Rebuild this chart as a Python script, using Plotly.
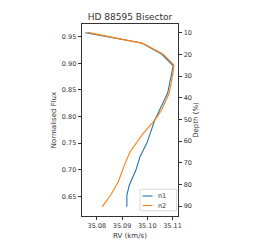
import plotly.graph_objects as go

# Data
flux_n1 = [0.9575, 0.9382, 0.9175, 0.8955, 0.8442, 0.8122, 0.7934, 0.7496, 0.7244, 0.6994, 0.6712, 0.6524, 0.6305]
rv_n1 = [35.0754, 35.0978, 35.1057, 35.1103, 35.1081, 35.1050, 35.1030, 35.0998, 35.0971, 35.0955, 35.0929, 35.0919, 35.0919]

flux_n2 = [0.9583, 0.9376, 0.9175, 0.8968, 0.8818, 0.8436, 0.8122, 0.7934, 0.7684, 0.7338, 0.7120, 0.6994, 0.6774, 0.6524, 0.6305]
rv_n2 = [35.0763, 35.0982, 35.1062, 35.1106, 35.1102, 35.1087, 35.1057, 35.1030, 35.0984, 35.0932, 35.0912, 35.0903, 35.0885, 35.0855, 35.0822]

series_names = ["n1", "n2"]
series_colors = ["#1f77b4", "#ff7f0e"]

x_ticks = [35.08, 35.09, 35.10, 35.11]
x_ticklabels = ["35.08", "35.09", "35.10", "35.11"]
y_ticks = [0.65, 0.70, 0.75, 0.80, 0.85, 0.90, 0.95]
y_ticklabels = ["0.65", "0.70", "0.75", "0.80", "0.85", "0.90", "0.95"]
depth_ticks = [10, 20, 30, 40, 50, 60, 70, 80, 90]
depth_ticklabels = [str(v) for v in depth_ticks]

title_text = "HD 88595 Bisector"
x_title = "RV (km/s)"
y_title = "Normalised Flux"
y2_title = "Depth (%)"

W, H = 259, 240
L, R, T, B = 82, 81, 24, 24
FONT = "DejaVu Sans"
TXT = "#333333"
SPINE = "#333333"

fig = go.Figure()
fig.add_trace(go.Scatter(x=rv_n1, y=flux_n1, mode="lines", name=series_names[0],
                         line=dict(color=series_colors[0], width=1.1), showlegend=False))
fig.add_trace(go.Scatter(x=rv_n2, y=flux_n2, mode="lines", name=series_names[1],
                         line=dict(color=series_colors[1], width=1.1), showlegend=False))
# invisible trace to activate secondary axis
fig.add_trace(go.Scatter(x=[None], y=[None], yaxis="y2", showlegend=False, hoverinfo="skip"))

tickfont = dict(family=FONT, size=6.5, color=TXT)
common = dict(ticks="outside", ticklen=3.5, tickwidth=0.8, tickcolor=SPINE,
              showline=True, linecolor=SPINE, linewidth=0.8,
              showgrid=False, zeroline=False, tickfont=tickfont, automargin=False)
fig.update_layout(
    template="none",
    width=W, height=H,
    margin=dict(l=L, r=R, t=T, b=B, pad=0),
    plot_bgcolor="white", paper_bgcolor="white",
    showlegend=False,
    title=dict(text=title_text, x=0.5, xanchor="center", y=1 - 17 / H, yanchor="middle",
               xref="paper", font=dict(family=FONT, size=9, color=TXT)),
    xaxis=dict(range=[35.0741, 35.1122], tickvals=x_ticks, ticktext=x_ticklabels, mirror=True,
               title=dict(text=x_title, font=dict(family=FONT, size=7, color=TXT), standoff=5),
               **common),
    yaxis=dict(range=[0.613, 0.974], tickvals=y_ticks, ticktext=y_ticklabels,
               title=dict(text=y_title, font=dict(family=FONT, size=7, color=TXT), standoff=4),
               **common),
    yaxis2=dict(range=[94.6, 6.0], tickvals=depth_ticks, ticktext=depth_ticklabels,
                overlaying="y", side="right",
                title=dict(text=y2_title, font=dict(family=FONT, size=7, color=TXT), standoff=1),
                **common),
)

# Manual matplotlib-style legend (lower right, inside axes)
pw, ph = W - L - R, H - T - B
def px(x): return (x - L) / pw
def py(y): return (H - B - y) / ph

fig.add_shape(type="rect", xref="paper", yref="paper",
              x0=px(140), x1=px(176.5), y0=py(210.7), y1=py(189.3),
              line=dict(color="#d0d0d0", width=0.8), fillcolor="rgba(255,255,255,0.8)")
for i, yy in enumerate([196, 205.5]):
    fig.add_shape(type="line", xref="paper", yref="paper",
                  x0=px(142.5), x1=px(152.5), y0=py(yy), y1=py(yy),
                  line=dict(color=series_colors[i], width=1.1))
    fig.add_annotation(xref="paper", yref="paper", x=px(155.5), y=py(yy),
                       text=series_names[i], showarrow=False, xanchor="left", yanchor="middle",
                       font=dict(family=FONT, size=6.5, color=TXT))

fig.write_html("out.html", config={"displayModeBar": False},
               post_script="document.body.style.margin='0px';document.body.style.overflow='hidden';")
